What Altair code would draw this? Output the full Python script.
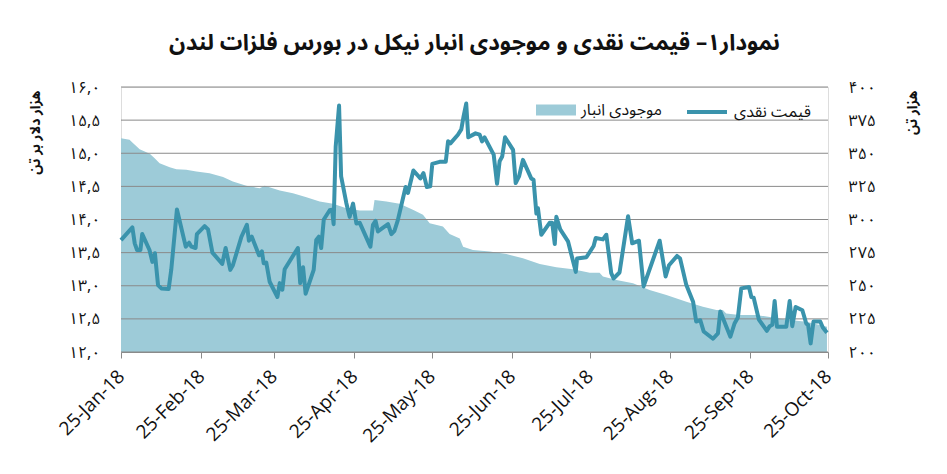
import altair as alt
import pandas as pd

TITLE = "نمودار۱– قیمت نقدی و موجودی انبار نیکل در بورس فلزات لندن"
PRICE_NAME = "قیمت نقدی"
STOCK_NAME = "موجودی انبار"
LEFT_TITLE = "هزار دلار بر تن"
RIGHT_TITLE = "هزار تن"
BASE_DATE = "2018-01-25"

# price line: offsets in days from 25-Jan-18 and price (thousand $ / t)
price_days = [0, 4.4, 5.3, 6.2, 7.5, 8.2, 11, 12.1, 13.1, 14.3, 15.6, 18.4, 19.4, 21.6, 25, 26.3,
              27.2, 28.8, 29.3, 32.3, 33.6, 35.3, 39.1, 40.4, 42.2, 43.2, 46.5, 48.6, 49.4, 50.5,
              53.3, 54.4, 55.1, 56.1, 57.4, 60.4, 61.3, 62.3, 63.2, 68.3, 69.2, 70.3, 71.3, 74.4,
              75.4, 76.4, 77.3, 78.3, 80.6, 81.5, 82.1, 82.9, 84.2, 85, 87, 88.3, 89.6, 90.9, 92.2,
              96.3, 97.3, 98.3, 99.2, 103.1, 104.4, 105.6, 106.9, 109.9, 110.8, 112.9, 115.6, 116.8,
              118.1, 119.4, 120.2, 123, 125.4, 126.3, 127.2, 130.1, 131.4, 132.3, 133.3, 134.1,
              136.9, 138.5, 139.4, 140.4, 143.9, 145.2, 146.2, 147.2, 148.3, 151.4, 152.4, 153.7,
              155.2, 158.4, 159.3, 160.4, 161, 162.3, 165.5, 166.5, 167.5, 168.1, 169.6, 172.6,
              175.6, 176.1, 179.7, 182.5, 183.3, 186.1, 187.4, 189.3, 190.2, 192.5, 195.8, 197.4,
              200, 201.8, 208, 210.3, 211.6, 214.7, 215.9, 218.3, 220.9, 222.1, 223.7, 225, 228.6,
              230.5, 231.4, 235.3, 236.9, 238.2, 239.5, 242.5, 243.4, 244.3, 246.3, 249.4, 250.5,
              251.5, 252.4, 253.3, 256.9, 258.2, 259.2, 260.5, 263.1, 264.6, 265.3, 266.3, 267.4,
              270, 271, 272.6]
price_values = [13.69, 13.88, 13.64, 13.54, 13.54, 13.78, 13.54, 13.36, 13.49, 13.01, 12.96, 12.95,
                13.24, 14.15, 13.59, 13.65, 13.59, 13.57, 13.78, 13.90, 13.85, 13.50, 13.33, 13.57,
                13.24, 13.31, 13.74, 13.92, 13.68, 13.74, 13.46, 13.52, 13.34, 13.35, 13.06, 12.83,
                13.04, 12.94, 13.25, 13.57, 13.04, 13.28, 12.88, 13.24, 13.69, 13.74, 13.57, 14.00,
                14.14, 14.15, 13.93, 15.10, 15.72, 14.65, 14.25, 14.04, 14.24, 13.94, 13.95, 13.59,
                13.92, 13.98, 13.82, 13.93, 13.78, 13.83, 13.99, 14.49, 14.40, 14.74, 14.62, 14.70,
                14.49, 14.50, 14.84, 14.87, 14.87, 15.18, 15.15, 15.28, 15.36, 15.56, 15.75, 15.24,
                15.30, 15.28, 15.18, 15.24, 14.98, 14.54, 14.88, 14.95, 15.24, 15.05, 14.55, 14.65,
                14.90, 14.62, 14.60, 14.09, 14.17, 13.77, 13.95, 13.95, 13.63, 14.04, 13.85, 13.67,
                13.21, 13.41, 13.43, 13.60, 13.72, 13.70, 13.77, 13.19, 13.11, 13.20, 14.05, 13.64,
                13.68, 12.99, 13.68, 13.14, 13.31, 13.45, 13.41, 13.01, 12.76, 12.46, 12.48, 12.31,
                12.20, 12.28, 12.61, 12.23, 12.43, 12.52, 12.96, 12.98, 12.83, 12.82, 12.49, 12.32,
                12.39, 12.41, 12.77, 12.38, 12.38, 12.77, 12.39, 12.68, 12.63, 12.43, 12.41, 12.13,
                12.46, 12.46, 12.37, 12.29]

# stock area: offsets in days and stock (thousand t)
stock_days = [0, 3.3, 4.6, 7.2, 11.1, 13, 14.9, 18.8, 21.4, 25.2, 29.1, 34.2, 39.4, 43.2, 48.4,
              53.5, 55.5, 61.3, 66.4, 71.6, 76.7, 81.9, 87, 92.2, 97.3, 97.9, 102.5, 107.6, 112.7,
              116.6, 119.2, 124.3, 126.9, 130.8, 132.1, 135.9, 142.4, 148.8, 155.2, 161.7, 168.1,
              174.5, 181, 184.8, 186.1, 191.3, 197.7, 204.1, 210.6, 218.3, 224.7, 229.9, 232.4,
              233.7, 238.9, 245.3, 251.7, 258.2, 264.6, 272.6]
stock_values = [361.4, 360.2, 357.7, 353.1, 349.6, 346.3, 342.5, 339.5, 338, 337.5, 336.2, 335,
                332, 328.7, 325.4, 323.6, 325.4, 321.9, 319.9, 316.8, 313.6, 311.8, 308.5, 306.8,
                306.8, 314.8, 313.6, 311.8, 307.3, 303.5, 297.2, 294.7, 289.1, 285.6, 279.5, 277,
                275.8, 274, 270.7, 266.4, 263.9, 262.4, 259.9, 259.9, 256.9, 254.3, 251.8, 246.8,
                243, 238, 234.2, 231.7, 231.7, 229.1, 227.9, 227.9, 226.1, 224.1, 222.8, 219.1]

price_ticks = [12, 12.5, 13, 13.5, 14, 14.5, 15, 15.5, 16]
price_tick_labels = ["۱۲,۰", "۱۲,۵", "۱۳,۰", "۱۳,۵", "۱۴,۰", "۱۴,۵", "۱۵,۰", "۱۵,۵", "۱۶,۰"]
stock_ticks = [200, 225, 250, 275, 300, 325, 350, 375, 400]
stock_tick_labels = ["۲۰۰", "۲۲۵", "۲۵۰", "۲۷۵", "۳۰۰", "۳۲۵", "۳۵۰", "۳۷۵", "۴۰۰"]
x_tick_months = [1, 2, 3, 4, 5, 6, 7, 8, 9, 10]

AREA_COLOR = "#9dcbd8"
LINE_COLOR = "#3a93ac"
GRID_COLOR = "#8a8a8a"
FA_FONT = "Noto Sans Arabic, Noto Naskh Arabic, DejaVu Sans Condensed, DejaVu Sans"

base = pd.Timestamp(BASE_DATE)
price_df = pd.DataFrame({
    "date": base + pd.to_timedelta(price_days, unit="D"),
    "price": price_values,
    "series": PRICE_NAME,
})
stock_df = pd.DataFrame({
    "date": base + pd.to_timedelta(stock_days, unit="D"),
    "stock": stock_values,
    "series": STOCK_NAME,
})
grid_df = pd.DataFrame({"tick": price_ticks})


def label_expr(ticks, labels):
    expr = "''"
    for t, l in reversed(list(zip(ticks, labels))):
        expr = f"datum.value == {t} ? '{l}' : ({expr})"
    return expr


x_scale = alt.Scale(domain=[alt.DateTime(year=2018, month=1, date=25),
                            alt.DateTime(year=2018, month=10, date=25)])
x_axis = alt.Axis(
    values=[alt.DateTime(year=2018, month=m, date=25) for m in x_tick_months],
    format="%d-%b-%y", labelAngle=315, labelAlign="right", labelBaseline="middle",
    labelFontSize=19, labelFont="Open Sans", labelColor="#111", labelPadding=15,
    tickSize=6, tickColor=GRID_COLOR, domainColor=GRID_COLOR, grid=False, title=None,
    labelOverlap=False, labelFlush=False,
)
x_enc = alt.X("date:T", scale=x_scale, axis=x_axis)

area = alt.Chart(stock_df).mark_area(opacity=1, line=False).encode(
    x=x_enc,
    y=alt.Y("stock:Q", scale=alt.Scale(domain=[200, 400], nice=False),
            axis=alt.Axis(orient="right", values=stock_ticks,
                          labelExpr=label_expr(stock_ticks, stock_tick_labels),
                          labelFont=FA_FONT, labelFontSize=16, labelColor="#111",
                          labelPadding=20, ticks=False, domain=False, grid=False,
                          title=RIGHT_TITLE, titleFont=FA_FONT, titleFontSize=14,
                          titleFontWeight="bold", titleColor="#111", titleAngle=270,
                          titleX=84, titleY=3, titleAlign="right", titleBaseline="middle")),
    y2=alt.datum(200),
    fill=alt.Fill("series:N", scale=alt.Scale(domain=[STOCK_NAME], range=[AREA_COLOR]),
                  legend=alt.Legend(orient="none", legendX=415, legendY=3, title=None,
                                    symbolType="M-1,-0.275H1V0.275H-1Z", symbolSize=1600,
                                    symbolStrokeWidth=0, labelFont=FA_FONT, labelFontSize=16,
                                    labelColor="#111", labelOffset=5, padding=0)),
)

grid = alt.Chart(grid_df).mark_rule(color=GRID_COLOR, strokeWidth=1).encode(
    y=alt.Y("tick:Q", scale=alt.Scale(domain=[12, 16], nice=False), axis=None),
)

line = alt.Chart(price_df).mark_line(strokeWidth=4, strokeJoin="round").encode(
    x=x_enc,
    y=alt.Y("price:Q", scale=alt.Scale(domain=[12, 16], nice=False),
            axis=alt.Axis(orient="left", values=price_ticks,
                          labelExpr=label_expr(price_ticks, price_tick_labels),
                          labelFont=FA_FONT, labelFontSize=16, labelColor="#111",
                          labelPadding=21, ticks=False, domain=False, grid=False,
                          title=LEFT_TITLE, titleFont=FA_FONT, titleFontSize=14,
                          titleFontWeight="bold", titleColor="#111", titleAngle=270,
                          titleX=-86, titleY=3, titleAlign="right", titleBaseline="middle")),
    stroke=alt.Stroke("series:N", scale=alt.Scale(domain=[PRICE_NAME], range=[LINE_COLOR]),
                      legend=alt.Legend(orient="none", legendX=564, legendY=3, title=None,
                                        symbolType="stroke", symbolSize=1600,
                                        symbolStrokeWidth=4, labelFont=FA_FONT,
                                        labelFontSize=16, labelColor="#111", labelOffset=5,
                                        padding=0)),
)

chart = alt.layer(area, grid, line).resolve_scale(
    y="independent", fill="independent", stroke="independent"
).properties(
    width=707, height=265,
    padding={"left": 113, "top": 79, "right": 111, "bottom": 114},
    autosize=alt.AutoSizeParams(type="none"),
    title=alt.TitleParams(TITLE, font=FA_FONT, fontSize=22.5, fontWeight="bold",
                          color="#111", anchor="middle", offset=25),
).configure_view(stroke=None).configure(background="white")

chart.save("out.html", embed_options={"renderer": "svg", "actions": False})
